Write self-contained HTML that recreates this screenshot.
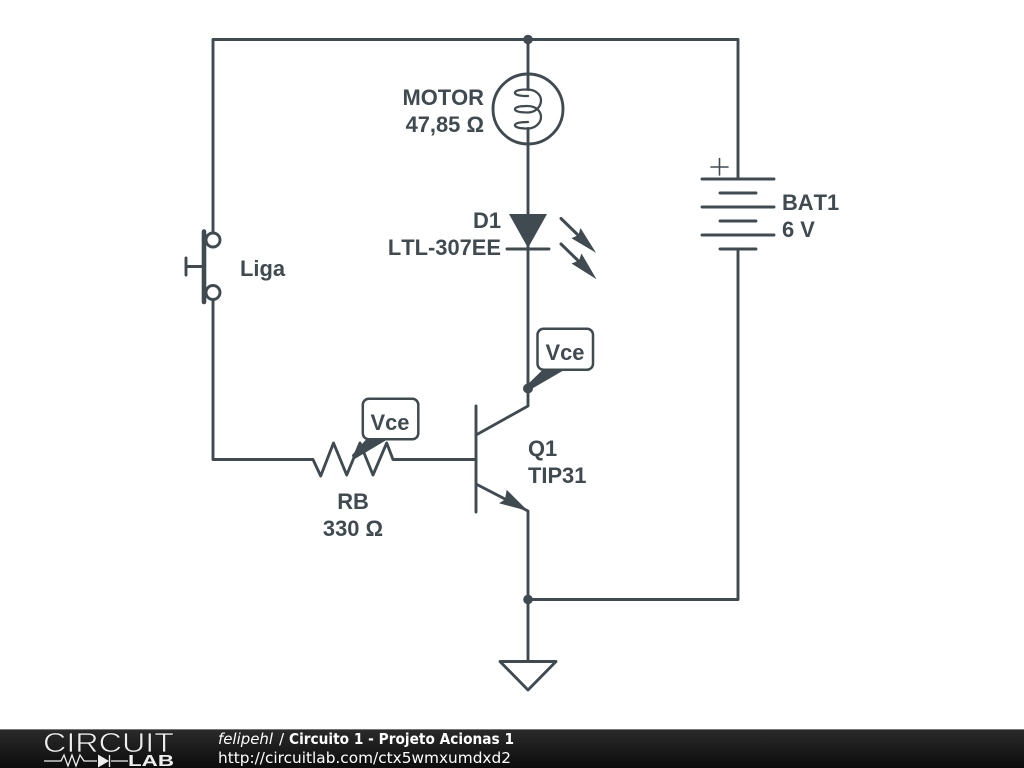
<!DOCTYPE html>
<html><head><meta charset="utf-8"><style>
html,body{margin:0;padding:0;width:1024px;height:768px;overflow:hidden;background:#fff}
svg{display:block;filter:blur(.35px)}
.t{font-family:"Liberation Sans",sans-serif;font-weight:bold;font-size:21.9px;font-kerning:none;fill:#3f4b50}
.f{font-family:"DejaVu Sans",sans-serif;font-size:15.3px;fill:#fff}
</style></head><body>
<svg width="1024" height="768" viewBox="0 0 1024 768" xmlns="http://www.w3.org/2000/svg">
<defs><linearGradient id="g" x1="0" y1="0" x2="0" y2="1"><stop offset="0" stop-color="#2b2b2b"/><stop offset="1" stop-color="#0c0c0c"/></linearGradient></defs>
<g fill="none" stroke="#3f4b50" stroke-width="2.9" stroke-linecap="round" stroke-linejoin="round">
<path d="M213 233V39.500H738V179"/>
<path d="M213 299V459.500H313L320.700 476L333.500 443L346.700 475L360 443L373 475L386.700 443L393 459.500H476"/>
<path d="M528 39.500V89.500M528 128.500V406L476 435"/>
<path d="M476 484L528 511V661"/>
<path d="M528 599.500H738V249"/>
<path d="M476 406V512"/>
<path d="M500 661.500H556L528 690Z"/>
<path d="M702 179H774M720 193H756M702 207H774M720 221H756M702 235H774M720 249H756"/>
<path d="M711 167H728M719.500 158.500V175" stroke-width="1.600"/>
<circle cx="528" cy="109" r="35"/>
<path d="M528 96C520 96 515 95 515 92.700C515 90.500 520 89.500 527 89.500C536 89.500 541 95 541 100.500C541 107 535 112.500 528 112.500C520 112.500 515 111.500 515 109.300C515 107 520 106 527 106C536 106 541 111 541 117C541 123 535 128.500 528 128.500C520 128.500 515 127.500 515 125.300C515 123 520 122 528 122" stroke-width="2.300"/>
<path d="M507 249H549"/>
<path d="M561 218.500L580 237M561 244L580 262.500" stroke-width="3"/>
<path d="M204 231.500V302" stroke-width="4.600"/>
<path d="M186 266.500H204M186 258V275"/>
<circle cx="213" cy="240" r="7" fill="#fff"/>
<circle cx="213" cy="292.500" r="7" fill="#fff"/>
</g>
<g fill="#3f4b50">
<path d="M509 214H547L528 248Z"/>
<path d="M596 252.700L580.500 228L578.500 235L571.500 238.300Z"/>
<path d="M596.500 279.300L581.500 253.500L579 260.500L571.500 263.500Z"/>
<path d="M528 511L506.700 489.700L505 499.500L499 503.300Z"/>
<circle cx="528" cy="39.500" r="4.800"/>
<circle cx="528" cy="388.500" r="5"/>
<circle cx="528" cy="599.500" r="4.800"/>
</g>
<g fill="#fff" stroke="#3f4b50" stroke-width="2.500">
<rect x="537.500" y="328.800" width="55.500" height="41" rx="6"/>
<rect x="362.800" y="398.800" width="55.500" height="40.500" rx="6"/>
</g>
<g fill="#3f4b50">
<path d="M543 369.500L565 369.500L528 391L526 386Z"/>
<path d="M367 438.500L389 438.500L353 460L352 455Z"/>
</g>
<g class="t">
<text x="484" y="105" text-anchor="end" class="t">MOTOR</text>
<text x="484" y="132" text-anchor="end" class="t">47,85 Ω</text>
<text x="501" y="228" text-anchor="end" class="t">D1</text>
<text x="501" y="255" text-anchor="end" class="t">LTL-307EE</text>
<text x="782" y="210" class="t">BAT1</text>
<text x="782" y="237" class="t">6 V</text>
<text x="240" y="276" class="t">Liga</text>
<text x="528" y="456" class="t">Q1</text>
<text x="528" y="483" class="t">TIP31</text>
<text x="353" y="509" text-anchor="middle" class="t">RB</text>
<text x="353" y="536" text-anchor="middle" class="t">330 Ω</text>
<text x="565" y="360" text-anchor="middle" class="t">Vce</text>
<text x="390" y="430" text-anchor="middle" class="t">Vce</text>
</g>
<rect x="0" y="729" width="1024" height="39" fill="url(#g)"/>
<rect x="0" y="729" width="1024" height="1" fill="#777"/>
<text x="43" y="752" font-family="'Liberation Sans',sans-serif" font-size="28" fill="#eee" textLength="131" lengthAdjust="spacingAndGlyphs" stroke="#1b1b1b" stroke-width="0.700">CIRCUIT</text>
<path d="M44 761H61L64 755L68 766L72 755L76 766L80 755L84 761H97M111 761H128M109.500 755V767" fill="none" stroke="#eee" stroke-width="1.300"/>
<path d="M98 754.500L109 761L98 767.500Z" fill="#eee"/>
<text x="128" y="766" font-family="'Liberation Sans',sans-serif" font-weight="bold" font-size="16" fill="#eee" textLength="46" lengthAdjust="spacingAndGlyphs">LAB</text>
<text x="218" y="744" class="f" font-style="italic" textLength="55" lengthAdjust="spacingAndGlyphs">felipehl</text>
<text x="279" y="744" class="f">/</text>
<text x="289" y="744" class="f" font-weight="bold" textLength="225" lengthAdjust="spacingAndGlyphs">Circuito 1 - Projeto Acionas 1</text>
<text x="218" y="763" class="f" textLength="293" lengthAdjust="spacingAndGlyphs">http://circuitlab.com/ctx5wmxumdxd2</text>
</svg>
</body></html>
